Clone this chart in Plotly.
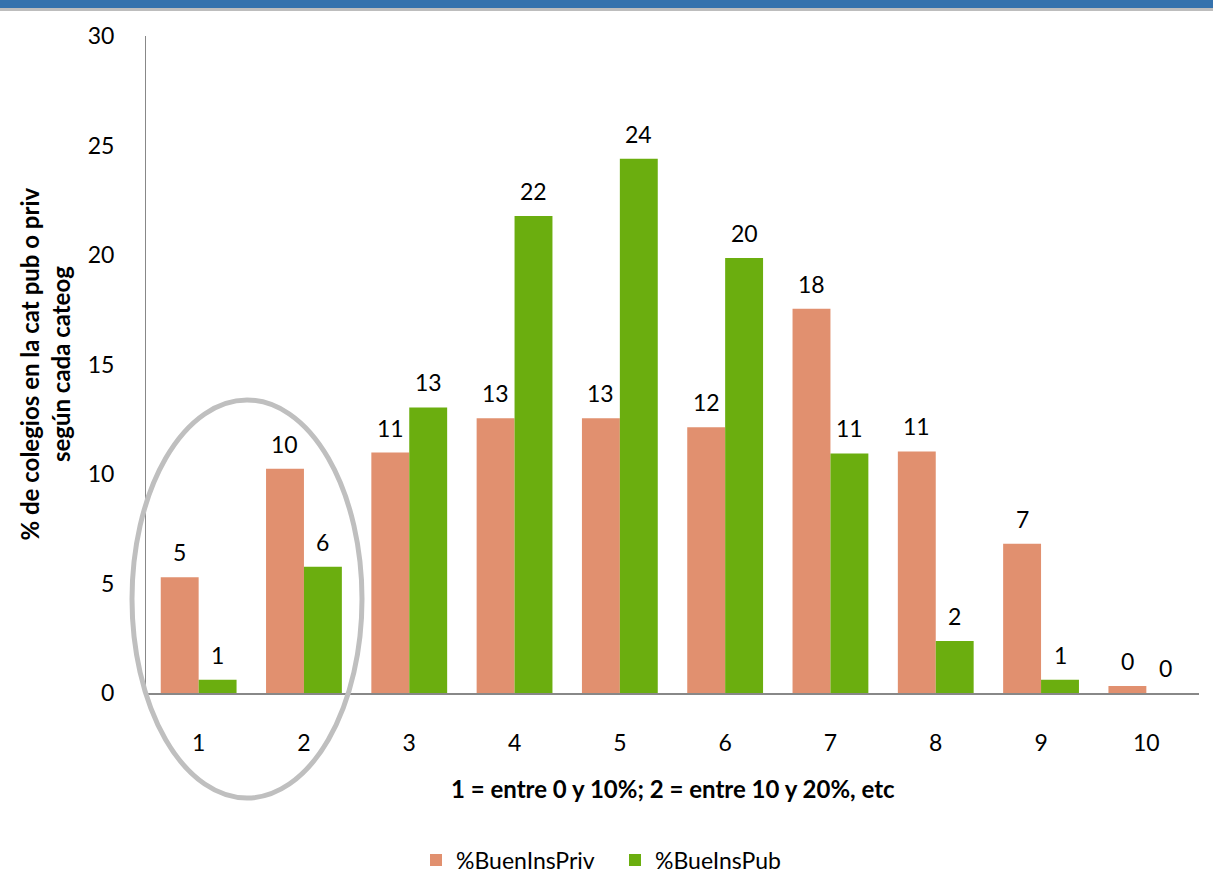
import plotly.graph_objects as go

categories = [1, 2, 3, 4, 5, 6, 7, 8, 9, 10]
priv_values = [5.28, 10.24, 10.98, 12.55, 12.55, 12.13, 17.55, 11.03, 6.82, 0.32]
pub_values = [0.6, 5.77, 13.04, 21.78, 24.39, 19.86, 10.94, 2.38, 0.6, 0.0]
y_ticks = [0, 5, 10, 15, 20, 25, 30]

PRIV_COLOR = "#E1906F"
PUB_COLOR = "#6BAE0F"
FONT = "Lato"

# plot area in pixels: left 146, right 1199, top 36, bottom 693
PH = 657.0
PW = 1053.0
def py(pix):
    return (693 - pix) / PH
def px(pix):
    return (pix - 146) / PW

fig = go.Figure()
fig.add_trace(go.Bar(x=categories, y=priv_values, name="%BuenInsPriv",
                     marker=dict(color=PRIV_COLOR, line=dict(width=0))))
fig.add_trace(go.Bar(x=categories, y=pub_values, name="%BueInsPub",
                     marker=dict(color=PUB_COLOR, line=dict(width=0))))

annotations = []
for c, v in zip(categories, priv_values):
    annotations.append(dict(x=c, y=v, xref="x", yref="y", text=f"{round(v)}",
                            showarrow=False, xshift=-19, yshift=25,
                            font=dict(family=FONT, size=23, color="#000")))
for c, v in zip(categories, pub_values):
    annotations.append(dict(x=c, y=v, xref="x", yref="y", text=f"{round(v)}",
                            showarrow=False, xshift=19, yshift=25,
                            font=dict(family=FONT, size=23, color="#000")))

annotations.append(dict(x=0.5, y=py(788), xref="paper", yref="paper",
                        text="<b>1 = entre 0 y 10%; 2 = entre 10 y 20%, etc</b>",
                        showarrow=False, xanchor="center", yanchor="middle",
                        font=dict(family=FONT, size=24, color="#000")))
annotations.append(dict(x=px(44), y=0.5, xref="paper", yref="paper",
                        text="<b>% de colegios en la cat pub o priv<br>según cada cateog</b>",
                        showarrow=False, xanchor="center", yanchor="middle", textangle=-90,
                        font=dict(family=FONT, size=24, color="#000")))

shapes = [
    dict(type="rect", xref="paper", yref="paper", x0=-0.2, x1=1.1,
         y0=py(11), y1=py(8), fillcolor="#BDBDBD", line=dict(width=0), layer="below"),
    dict(type="rect", xref="paper", yref="paper", x0=-0.2, x1=1.1,
         y0=py(8), y1=py(-2), fillcolor="#3572AD", line=dict(width=0), layer="below"),
    dict(type="circle", xref="paper", yref="paper", x0=px(132), x1=px(362),
         y0=py(798), y1=py(400), line=dict(color="#BFBFBF", width=5), fillcolor="rgba(0,0,0,0)"),
]

fig.update_layout(
    width=1213, height=896,
    margin=dict(l=146, r=14, t=36, b=203),
    paper_bgcolor="white", plot_bgcolor="white",
    barmode="group", bargap=0.28, bargroupgap=0,
    font=dict(family=FONT, size=23, color="#000"),
    showlegend=True,
    legend=dict(orientation="h", x=px(416), y=py(860), xanchor="left", yanchor="middle",
                entrywidth=154, entrywidthmode="pixels",
                font=dict(family=FONT, size=23, color="#000")),
    annotations=annotations,
    shapes=shapes,
)
fig.update_xaxes(
    range=[0.5, 10.5], tickmode="array", tickvals=categories,
    ticktext=[str(c) for c in categories],
    showline=True, linecolor="#888888", linewidth=2, showgrid=False, zeroline=False,
    ticks="", ticklabelstandoff=28, tickfont=dict(family=FONT, size=23),
)
fig.update_yaxes(
    range=[0, 30], tickmode="array", tickvals=y_ticks,
    showline=True, linecolor="#888888", linewidth=1, showgrid=False, zeroline=False,
    ticks="", ticklabelstandoff=26, tickfont=dict(family=FONT, size=23),
)

fig.write_html("out.html", config={"displayModeBar": False},
               post_script="document.body.style.margin='0';document.body.style.padding='0';")
